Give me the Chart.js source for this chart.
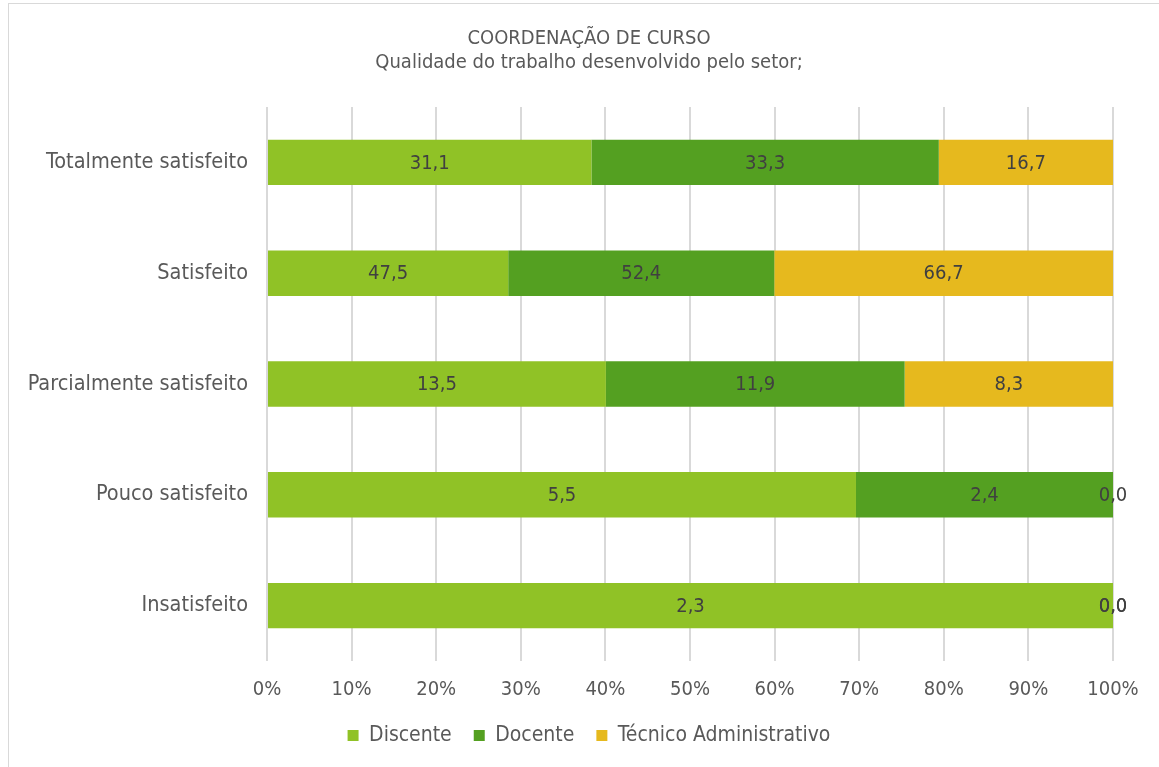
<!DOCTYPE html>
<html>
<head>
<meta charset="utf-8">
<script src="https://cdn.jsdelivr.net/npm/chart.js@4/dist/chart.umd.min.js"></script>
<style>
  html, body { margin: 0; padding: 0; background: #ffffff; overflow: hidden; }
  #frame { position: absolute; left: 8px; top: 3px; width: 2000px; height: 2000px; border: 1px solid #d9d9d9; }
  #wrap { position: absolute; left: 0; top: 0; width: 1159px; height: 767px; }
</style>
</head>
<body>
<div id="frame"></div>
<div id="wrap"><canvas id="c" width="1159" height="767"></canvas></div>
<script>
// ---- data ----
const categories = ['Totalmente satisfeito', 'Satisfeito', 'Parcialmente satisfeito', 'Pouco satisfeito', 'Insatisfeito'];
const seriesNames = ['Discente', 'Docente', 'Técnico Administrativo'];
const discente = [31.1, 47.5, 13.5, 5.5, 2.3];
const docente = [33.3, 52.4, 11.9, 2.4, 0.0];
const tecnico = [16.7, 66.7, 8.3, 0.0, 0.0];
const xTicks = [0, 10, 20, 30, 40, 50, 60, 70, 80, 90, 100];
const titleText = 'COORDENAÇÃO DE CURSO';
const subtitleText = 'Qualidade do trabalho desenvolvido pelo setor;';

const colors = ['#90C226', '#54A021', '#E6B91E'];
const FONT = "'DejaVu Sans Condensed', 'DejaVu Sans', sans-serif";

const raw = [discente, docente, tecnico];
const totals = categories.map((_, i) => raw.reduce((s, arr) => s + arr[i], 0));
const pct = raw.map(arr => arr.map((v, i) => totals[i] ? v / totals[i] * 100 : 0));

const fmt = v => v.toFixed(1).replace('.', ',');

const valueLabels = {
  id: 'valueLabels',
  afterDatasetsDraw(chart) {
    const ctx = chart.ctx;
    ctx.save();
    ctx.font = '20px ' + FONT;
    ctx.fillStyle = '#404040';
    ctx.textAlign = 'center';
    ctx.textBaseline = 'middle';
    chart.data.datasets.forEach((ds, di) => {
      const meta = chart.getDatasetMeta(di);
      meta.data.forEach((el, i) => {
        const p = el.getProps(['x', 'y', 'base'], true);
        const cx = (p.x + p.base) / 2;
        ctx.fillText(fmt(raw[di][i]), cx, p.y + 1);
      });
    });
    ctx.restore();
  }
};

new Chart(document.getElementById('c'), {
  type: 'bar',
  data: {
    labels: categories,
    datasets: seriesNames.map((name, k) => ({
      label: name,
      data: pct[k],
      backgroundColor: colors[k],
      borderWidth: 0,
      barPercentage: 0.41,
      categoryPercentage: 1.0
    }))
  },
  options: {
    indexAxis: 'y',
    responsive: false,
    animation: false,
    layout: { padding: { left: 65, right: 46, top: 0, bottom: 11 } },
    plugins: {
      title: {
        display: true, text: titleText, color: '#595959',
        font: { family: FONT, size: 20, weight: 'normal', lineHeight: 1.2 },
        padding: { top: 27, bottom: 0 }
      },
      subtitle: {
        display: true, text: subtitleText, color: '#595959',
        font: { family: FONT, size: 20, weight: 'normal', lineHeight: 1.2 },
        padding: { top: 0, bottom: 32 }
      },
      legend: {
        position: 'bottom',
        labels: {
          boxWidth: 11, boxHeight: 11, padding: 22, color: '#595959',
          font: { family: FONT, size: 21 }
        }
      },
      tooltip: { enabled: false }
    },
    scales: {
      x: {
        stacked: true, min: 0, max: 100,
        afterBuildTicks(scale) { scale.ticks = xTicks.map(v => ({ value: v })); },
        afterFit(scale) { scale.height = 42; },
        ticks: {
          padding: 17, color: '#595959',
          font: { family: FONT, size: 20 },
          callback: v => v + '%'
        },
        grid: { color: '#d9d9d9', lineWidth: 2, drawTicks: false },
        border: { display: false }
      },
      y: {
        stacked: true,
        afterFit(scale) {
          scale.width = 202;
          scale._computeLabelArea = function () { return undefined; };
        },
        ticks: {
          padding: 19, color: '#595959',
          font: { family: FONT, size: 21.5 }
        },
        grid: { display: false, drawTicks: false },
        border: { display: false }
      }
    }
  },
  plugins: [valueLabels]
});
</script>
</body>
</html>
